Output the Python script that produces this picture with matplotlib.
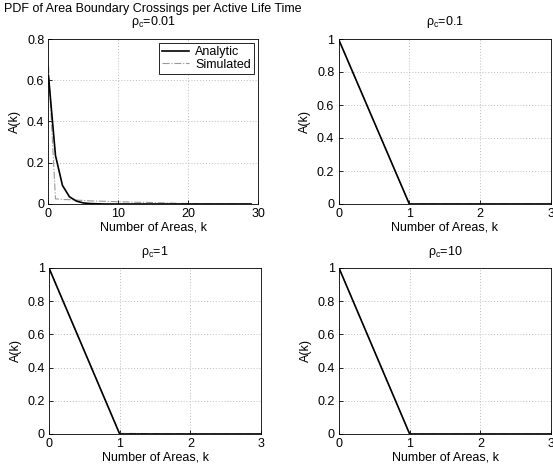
import matplotlib

matplotlib.use("Agg")
import matplotlib.pyplot as plt
from matplotlib.ticker import FormatStrFormatter, MultipleLocator

plt.rcParams["font.family"] = ["Liberation Sans", "DejaVu Sans"]
plt.rcParams["mathtext.fontset"] = "custom"
plt.rcParams["mathtext.rm"] = "Liberation Sans"
plt.rcParams["mathtext.it"] = "Liberation Sans"
plt.rcParams["font.size"] = 9

# rho_c = 0.01 : k = 0..29
k_wide = list(range(30))
analytic_001 = [0.62, 0.235, 0.09, 0.035, 0.014, 0.005, 0.002, 0.001] + [0.0] * 22
simulated_001 = [0.67, 0.025, 0.022, 0.021, 0.019, 0.017, 0.015, 0.014, 0.013,
                 0.012, 0.011, 0.010, 0.009, 0.008, 0.008, 0.007, 0.006, 0.005,
                 0.004, 0.003, 0.002, 0.001] + [0.0] * 8

# rho_c = 0.1, 1, 10 : k = 0..3
k_narrow = [0, 1, 2, 3]
analytic_01 = [1.0, 0.0, 0.0, 0.0]
simulated_01 = [1.0, 0.0, 0.0, 0.0]
analytic_1 = [1.0, 0.0, 0.0, 0.0]
simulated_1 = [0.996, 0.004, 0.0, 0.0]
analytic_10 = [1.0, 0.0, 0.0, 0.0]
simulated_10 = [1.0, 0.0, 0.0, 0.0]

W, H = 553, 470


def box(left, right, top, bottom):
    return [left / W, (H - bottom) / H, (right - left) / W, (bottom - top) / H]


fig = plt.figure(figsize=(W / 100, H / 100), dpi=100, facecolor="white")

panels = [
    (box(48.5, 258, 39, 204), k_wide, analytic_001, simulated_001, 30, 0.8, 10,
     "PDF of Area Boundary Crossings per Active Life Time\n$\\rho_c$=0.01"),
    (box(338.5, 551, 39, 204), k_narrow, analytic_01, simulated_01, 3, 1.0, 1,
     "$\\rho_c$=0.1"),
    (box(49, 261, 268, 434), k_narrow, analytic_1, simulated_1, 3, 1.0, 1,
     "$\\rho_c$=1"),
    (box(339, 551, 268, 434), k_narrow, analytic_10, simulated_10, 3, 1.0, 1,
     "$\\rho_c$=10"),
]

for i, (pos, k, ana, sim, xmax, ymax, xstep, title) in enumerate(panels):
    ax = fig.add_axes(pos)
    ax.plot(k, ana, color="black", lw=1.2, label="Analytic", zorder=3)
    ax.plot(k, sim, color="#999999", lw=0.8, ls="-.", label="Simulated", zorder=2)
    ax.set_xlim(0, xmax)
    ax.set_ylim(0, ymax)
    ax.xaxis.set_major_locator(MultipleLocator(xstep))
    ax.yaxis.set_major_locator(MultipleLocator(0.2))
    ax.xaxis.set_major_formatter(FormatStrFormatter("%g"))
    ax.yaxis.set_major_formatter(FormatStrFormatter("%g"))
    ax.tick_params(direction="in", length=3, width=0.6, labelsize=9, pad=3)
    ax.grid(True, color="#bdbdbd", ls=(0, (1, 2)), lw=0.7)
    for spine in ax.spines.values():
        spine.set_linewidth(0.6)
    ax.set_xlabel("Number of Areas, k", fontsize=9, labelpad=1)
    ax.set_ylabel("A(k)", fontsize=9, labelpad=4)
    ax.set_title(title, fontsize=9, pad=10 if i < 2 else 9, linespacing=0.95)
    if i == 0:
        leg = ax.legend(loc="upper right", fontsize=9, fancybox=False,
                        framealpha=1, edgecolor="black", borderpad=0.25,
                        handlelength=2.2, handletextpad=0.5,
                        labelspacing=0.05, borderaxespad=0.3)
        leg.get_frame().set_linewidth(0.6)

fig.savefig("out.png", dpi=100, facecolor="white")
